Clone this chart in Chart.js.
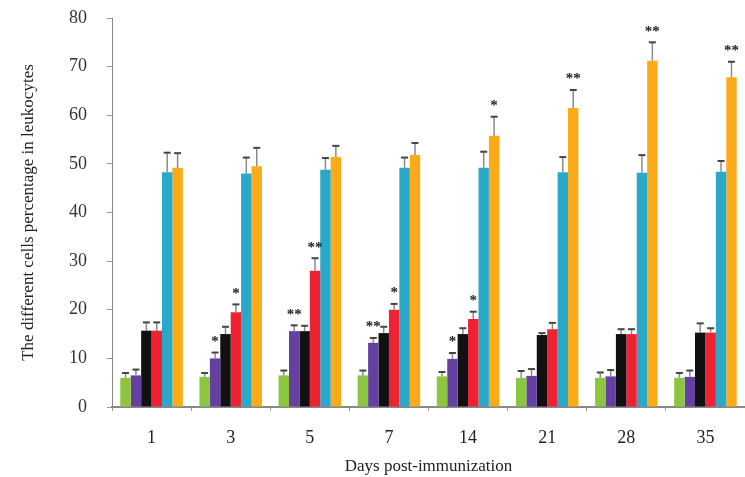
<!DOCTYPE html>
<html>
<head>
<meta charset="utf-8">
<script src="https://cdn.jsdelivr.net/npm/chart.js@4.4.0/dist/chart.umd.min.js"></script>
<style>
  html, body { margin: 0; padding: 0; background: #fff; }
  #wrap { width: 745px; height: 477px; }
</style>
</head>
<body>
<div id="wrap"><canvas id="cellChart" width="745" height="477"></canvas></div>
<script>
// Days (categories)
const days = ["1", "3", "5", "7", "14", "21", "28", "35"];
const yTicks = [0, 10, 20, 30, 40, 50, 60, 70, 80];

// Mean values per cell type
const greenVals  = [6.0, 6.2, 6.5, 6.5, 6.3, 6.0, 6.0, 6.0];
const purpleVals = [6.5, 10.0, 15.6, 13.2, 9.9, 6.4, 6.3, 6.2];
const blackVals  = [15.7, 15.0, 15.6, 15.2, 15.0, 14.8, 15.0, 15.3];
const redVals    = [15.7, 19.5, 28.0, 20.0, 18.1, 16.0, 15.0, 15.3];
const cyanVals   = [48.3, 48.0, 48.8, 49.2, 49.2, 48.3, 48.2, 48.4];
const orangeVals = [49.2, 49.5, 51.4, 51.8, 55.8, 61.5, 71.2, 67.8];

// Error bar sizes (SD)
const greenErr  = [1.0, 0.8, 1.0, 1.0, 0.9, 1.4, 1.1, 1.0];
const purpleErr = [1.2, 1.2, 1.2, 1.0, 1.2, 1.4, 1.3, 1.3];
const blackErr  = [1.7, 1.5, 1.1, 1.3, 1.2, 0.4, 1.0, 1.9];
const redErr    = [1.7, 1.6, 2.6, 1.2, 1.5, 1.3, 1.0, 0.9];
const cyanErr   = [4.0, 3.3, 2.4, 2.1, 3.3, 3.1, 3.6, 2.2];
const orangeErr = [3.0, 3.8, 2.3, 2.5, 3.9, 3.7, 3.8, 3.2];

// Significance marks
const purpleStars = ["", "*", "**", "**", "*", "", "", ""];
const redStars    = ["", "*", "**", "*", "*", "", "", ""];
const orangeStars = ["", "", "", "", "*", "**", "**", "**"];
const noStars     = ["", "", "", "", "", "", "", ""];

const serif = "'Liberation Serif', 'Times New Roman', serif";

function makeSet(label, data, err, stars, color) {
    return {
        label: label,
        data: data,
        err: err,
        stars: stars,
        backgroundColor: color,
        borderWidth: 0,
        categoryPercentage: 0.79,
        barPercentage: 1.0
    };
}

/**
 * Error bars and asterisks drawn on top of the bars
 */
const errorBarPlugin = {
    id: 'errorBars',
    afterDatasetsDraw(chart) {
        const ctx = chart.ctx;
        const y = chart.scales.y;
        chart.data.datasets.forEach((ds, i) => {
            const meta = chart.getDatasetMeta(i);
            meta.data.forEach((bar, j) => {
                const top = y.getPixelForValue(ds.data[j]);
                const hi = y.getPixelForValue(ds.data[j] + ds.err[j]);
                ctx.save();
                ctx.strokeStyle = '#8a8a8a';
                ctx.lineWidth = 1.5;
                ctx.beginPath();
                ctx.moveTo(bar.x, top);
                ctx.lineTo(bar.x, hi);
                ctx.stroke();
                ctx.strokeStyle = '#444';
                ctx.lineWidth = 2;
                ctx.beginPath();
                ctx.moveTo(bar.x - 3.5, hi);
                ctx.lineTo(bar.x + 3.5, hi);
                ctx.stroke();
                if (ds.stars[j]) {
                    ctx.fillStyle = '#222';
                    ctx.font = "bold 15px " + serif;
                    ctx.textAlign = 'center';
                    ctx.textBaseline = 'bottom';
                    ctx.fillText(ds.stars[j], bar.x, hi - 3);
                }
                ctx.restore();
            });
        });
    }
};

new Chart(document.getElementById('cellChart').getContext('2d'), {
    type: 'bar',
    data: {
        labels: days,
        datasets: [
            makeSet('Green', greenVals, greenErr, noStars, '#8cc63f'),
            makeSet('Purple', purpleVals, purpleErr, purpleStars, '#6540a0'),
            makeSet('Black', blackVals, blackErr, noStars, '#111111'),
            makeSet('Red', redVals, redErr, redStars, '#ee2230'),
            makeSet('Cyan', cyanVals, cyanErr, noStars, '#2aa8c9'),
            makeSet('Orange', orangeVals, orangeErr, orangeStars, '#fbab18')
        ]
    },
    options: {
        responsive: false,
        animation: false,
        layout: { padding: { top: 18, right: 0, bottom: 0, left: 0 } },
        plugins: {
            legend: { display: false },
            tooltip: { enabled: false }
        },
        scales: {
            x: {
                offset: true,
                grid: {
                    offset: true,
                    drawOnChartArea: false,
                    drawTicks: true,
                    tickLength: 4,
                    color: '#999'
                },
                border: { color: '#888', width: 2 },
                ticks: {
                    color: '#222',
                    padding: 16,
                    font: { family: serif, size: 18 }
                },
                title: {
                    display: true,
                    text: 'Days post-immunization',
                    color: '#222',
                    padding: { top: 2, bottom: 0 },
                    font: { family: serif, size: 17 }
                },
                afterFit: scale => { scale.height = 70; }
            },
            y: {
                min: 0,
                max: 80,
                afterBuildTicks: scale => { scale.ticks = yTicks.map(v => ({ value: v })); },
                grid: {
                    drawOnChartArea: false,
                    drawTicks: true,
                    tickLength: 5,
                    color: '#999'
                },
                border: { color: '#888', width: 1 },
                ticks: {
                    color: '#333',
                    padding: 20,
                    font: { family: serif, size: 18 }
                },
                title: {
                    display: true,
                    text: 'The different cells percentage in leukocytes',
                    color: '#222',
                    padding: { top: 18, bottom: 0 },
                    font: { family: serif, size: 17 }
                },
                afterFit: scale => {
                    scale.width = 112;
                    scale.paddingTop = 0;
                    scale.paddingBottom = 0;
                }
            }
        }
    },
    plugins: [errorBarPlugin]
});
</script>
</body>
</html>
